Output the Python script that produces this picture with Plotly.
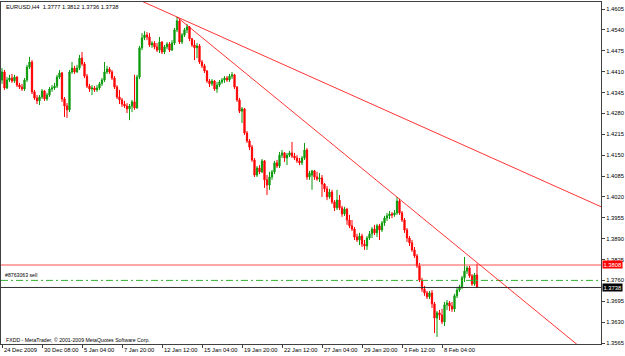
import plotly.graph_objects as go

# ---------------- data (EURUSD, H4) ----------------
open_ = [1.4384, 1.4409, 1.4359, 1.4384, 1.4390, 1.4381, 1.4393, 1.4368, 1.4362, 1.4356,
         1.4384, 1.4424, 1.4440, 1.4347, 1.4328, 1.4319, 1.4331, 1.4350, 1.4325, 1.4337,
         1.4356, 1.4359, 1.4365, 1.4393, 1.4406, 1.4325, 1.4303, 1.4291, 1.4409, 1.4421,
         1.4409, 1.4421, 1.4452, 1.4434, 1.4396, 1.4365, 1.4356, 1.4359, 1.4353, 1.4359,
         1.4372, 1.4384, 1.4409, 1.4418, 1.4409, 1.4390, 1.4362, 1.4331, 1.4322, 1.4309,
         1.4303, 1.4294, 1.4303, 1.4316, 1.4297, 1.4393, 1.4484, 1.4515, 1.4524, 1.4518,
         1.4493, 1.4499, 1.4487, 1.4477, 1.4502, 1.4471, 1.4487, 1.4496, 1.4477, 1.4499,
         1.4540, 1.4568, 1.4502, 1.4524, 1.4540, 1.4549, 1.4512, 1.4493, 1.4484, 1.4490,
         1.4440, 1.4428, 1.4412, 1.4381, 1.4372, 1.4381, 1.4356, 1.4368, 1.4378, 1.4384,
         1.4390, 1.4384, 1.4396, 1.4400, 1.4362, 1.4322, 1.4287, 1.4294, 1.4219, 1.4194,
         1.4175, 1.4135, 1.4088, 1.4110, 1.4098, 1.4132, 1.4073, 1.4057, 1.4082, 1.4098,
         1.4126, 1.4116, 1.4150, 1.4157, 1.4141, 1.4150, 1.4157, 1.4147, 1.4141, 1.4132,
         1.4126, 1.4141, 1.4166, 1.4082, 1.4088, 1.4101, 1.4082, 1.4076, 1.4079, 1.4060,
         1.4045, 1.4020, 1.4035, 1.4004, 1.3986, 1.4010, 1.3986, 1.3967, 1.3982, 1.3948,
         1.3930, 1.3920, 1.3895, 1.3886, 1.3898, 1.3873, 1.3867, 1.3892, 1.3905, 1.3920,
         1.3908, 1.3930, 1.3917, 1.3939, 1.3954, 1.3961, 1.3967, 1.3964, 1.3970, 1.4007,
         1.3970, 1.3948, 1.3917, 1.3892, 1.3877, 1.3855, 1.3836, 1.3805, 1.3761, 1.3733,
         1.3721, 1.3709, 1.3721, 1.3687, 1.3643, 1.3659, 1.3652, 1.3631, 1.3684, 1.3690,
         1.3680, 1.3671, 1.3712, 1.3730, 1.3740, 1.3768, 1.3789, 1.3799, 1.3774, 1.3749, 1.3777]

high = [1.4421, 1.4415, 1.4393, 1.4400, 1.4403, 1.4400, 1.4396, 1.4375, 1.4372, 1.4390,
        1.4431, 1.4456, 1.4446, 1.4353, 1.4337, 1.4337, 1.4356, 1.4353, 1.4344, 1.4362,
        1.4368, 1.4375, 1.4400, 1.4415, 1.4409, 1.4331, 1.4312, 1.4415, 1.4440, 1.4428,
        1.4431, 1.4462, 1.4471, 1.4440, 1.4403, 1.4372, 1.4368, 1.4365, 1.4368, 1.4378,
        1.4390, 1.4440, 1.4428, 1.4424, 1.4415, 1.4396, 1.4368, 1.4353, 1.4328, 1.4319,
        1.4312, 1.4309, 1.4322, 1.4400, 1.4400, 1.4490, 1.4530, 1.4536, 1.4533, 1.4530,
        1.4505, 1.4505, 1.4499, 1.4518, 1.4505, 1.4493, 1.4502, 1.4502, 1.4508, 1.4546,
        1.4580, 1.4574, 1.4530, 1.4546, 1.4558, 1.4552, 1.4515, 1.4508, 1.4499, 1.4496,
        1.4446, 1.4434, 1.4415, 1.4387, 1.4387, 1.4384, 1.4378, 1.4384, 1.4390, 1.4396,
        1.4396, 1.4403, 1.4409, 1.4403, 1.4365, 1.4328, 1.4300, 1.4297, 1.4225, 1.4200,
        1.4182, 1.4141, 1.4116, 1.4119, 1.4138, 1.4135, 1.4088, 1.4098, 1.4104, 1.4132,
        1.4135, 1.4160, 1.4166, 1.4160, 1.4157, 1.4163, 1.4191, 1.4157, 1.4150, 1.4141,
        1.4147, 1.4188, 1.4172, 1.4101, 1.4104, 1.4104, 1.4098, 1.4094, 1.4088, 1.4063,
        1.4054, 1.4045, 1.4042, 1.4010, 1.4042, 1.4026, 1.3992, 1.3989, 1.3986, 1.3964,
        1.3948, 1.3926, 1.3905, 1.3908, 1.3905, 1.3886, 1.3898, 1.3914, 1.3926, 1.3933,
        1.3936, 1.3936, 1.3945, 1.3961, 1.3970, 1.3976, 1.3973, 1.3979, 1.4020, 1.4014,
        1.3976, 1.3954, 1.3923, 1.3898, 1.3886, 1.3864, 1.3842, 1.3814, 1.3768, 1.3743,
        1.3727, 1.3727, 1.3730, 1.3693, 1.3665, 1.3668, 1.3671, 1.3693, 1.3699, 1.3696,
        1.3693, 1.3718, 1.3740, 1.3746, 1.3774, 1.3833, 1.3805, 1.3805, 1.3780, 1.3783, 1.3812]

low = [1.4372, 1.4353, 1.4356, 1.4378, 1.4375, 1.4375, 1.4362, 1.4356, 1.4350, 1.4350,
       1.4378, 1.4418, 1.4340, 1.4322, 1.4309, 1.4306, 1.4325, 1.4319, 1.4319, 1.4331,
       1.4347, 1.4353, 1.4359, 1.4387, 1.4316, 1.4269, 1.4266, 1.4284, 1.4403, 1.4403,
       1.4406, 1.4415, 1.4428, 1.4390, 1.4359, 1.4347, 1.4337, 1.4347, 1.4347, 1.4353,
       1.4365, 1.4378, 1.4403, 1.4403, 1.4384, 1.4356, 1.4325, 1.4309, 1.4300, 1.4297,
       1.4281, 1.4259, 1.4284, 1.4291, 1.4294, 1.4387, 1.4477, 1.4508, 1.4508, 1.4487,
       1.4484, 1.4480, 1.4471, 1.4468, 1.4465, 1.4465, 1.4480, 1.4471, 1.4474, 1.4493,
       1.4533, 1.4496, 1.4496, 1.4518, 1.4530, 1.4505, 1.4487, 1.4446, 1.4452, 1.4434,
       1.4421, 1.4406, 1.4375, 1.4362, 1.4365, 1.4350, 1.4344, 1.4362, 1.4372, 1.4375,
       1.4378, 1.4378, 1.4387, 1.4356, 1.4316, 1.4281, 1.4250, 1.4213, 1.4188, 1.4166,
       1.4129, 1.4082, 1.4082, 1.4091, 1.4094, 1.4048, 1.4026, 1.4042, 1.4073, 1.4091,
       1.4110, 1.4110, 1.4141, 1.4129, 1.4119, 1.4144, 1.4141, 1.4135, 1.4126, 1.4119,
       1.4119, 1.4135, 1.4073, 1.4073, 1.4042, 1.4073, 1.4070, 1.4066, 1.4020, 1.4035,
       1.4010, 1.4014, 1.3998, 1.3976, 1.3979, 1.3979, 1.3958, 1.3961, 1.3933, 1.3923,
       1.3914, 1.3886, 1.3880, 1.3870, 1.3864, 1.3855, 1.3855, 1.3886, 1.3892, 1.3901,
       1.3895, 1.3886, 1.3911, 1.3930, 1.3945, 1.3951, 1.3954, 1.3958, 1.3964, 1.3964,
       1.3942, 1.3908, 1.3880, 1.3867, 1.3849, 1.3830, 1.3799, 1.3755, 1.3724, 1.3712,
       1.3702, 1.3702, 1.3674, 1.3596, 1.3584, 1.3637, 1.3624, 1.3618, 1.3668, 1.3665,
       1.3662, 1.3662, 1.3705, 1.3724, 1.3733, 1.3755, 1.3780, 1.3768, 1.3743, 1.3743, 1.3736]

close = [1.4409, 1.4359, 1.4384, 1.4390, 1.4381, 1.4393, 1.4368, 1.4362, 1.4356, 1.4384,
         1.4424, 1.4440, 1.4347, 1.4328, 1.4319, 1.4331, 1.4350, 1.4325, 1.4337, 1.4356,
         1.4359, 1.4365, 1.4393, 1.4406, 1.4325, 1.4303, 1.4291, 1.4409, 1.4421, 1.4409,
         1.4421, 1.4452, 1.4434, 1.4396, 1.4365, 1.4356, 1.4359, 1.4353, 1.4359, 1.4372,
         1.4384, 1.4409, 1.4418, 1.4409, 1.4390, 1.4362, 1.4331, 1.4322, 1.4309, 1.4303,
         1.4294, 1.4303, 1.4316, 1.4297, 1.4393, 1.4484, 1.4515, 1.4524, 1.4518, 1.4493,
         1.4499, 1.4487, 1.4477, 1.4502, 1.4471, 1.4487, 1.4496, 1.4477, 1.4499, 1.4540,
         1.4568, 1.4502, 1.4524, 1.4540, 1.4549, 1.4512, 1.4493, 1.4484, 1.4490, 1.4440,
         1.4428, 1.4412, 1.4381, 1.4372, 1.4381, 1.4356, 1.4368, 1.4378, 1.4384, 1.4390,
         1.4384, 1.4396, 1.4400, 1.4362, 1.4322, 1.4287, 1.4294, 1.4219, 1.4194, 1.4175,
         1.4135, 1.4088, 1.4110, 1.4098, 1.4132, 1.4073, 1.4057, 1.4082, 1.4098, 1.4126,
         1.4116, 1.4150, 1.4157, 1.4141, 1.4150, 1.4157, 1.4147, 1.4141, 1.4132, 1.4126,
         1.4141, 1.4166, 1.4082, 1.4094, 1.4101, 1.4082, 1.4076, 1.4079, 1.4060, 1.4045,
         1.4020, 1.4035, 1.4004, 1.3986, 1.4010, 1.3986, 1.3967, 1.3982, 1.3948, 1.3930,
         1.3920, 1.3895, 1.3886, 1.3898, 1.3873, 1.3867, 1.3892, 1.3905, 1.3920, 1.3908,
         1.3930, 1.3917, 1.3939, 1.3954, 1.3961, 1.3967, 1.3964, 1.3970, 1.4007, 1.3970,
         1.3948, 1.3917, 1.3892, 1.3877, 1.3855, 1.3836, 1.3805, 1.3761, 1.3733, 1.3721,
         1.3709, 1.3721, 1.3687, 1.3643, 1.3659, 1.3652, 1.3631, 1.3684, 1.3690, 1.3680,
         1.3671, 1.3712, 1.3730, 1.3740, 1.3768, 1.3789, 1.3799, 1.3774, 1.3749, 1.3777, 1.3738]

# time-axis labels (every 16 H4 bars)
date_tick_bars = [0, 16, 32, 48, 64, 80, 96, 112, 128, 144, 160, 176]
date_tick_labels = ["24 Dec 2009", "30 Dec 08:00", "5 Jan 04:00", "7 Jan 20:00",
                    "12 Jan 12:00", "15 Jan 04:00", "19 Jan 20:00", "22 Jan 12:00",
                    "27 Jan 04:00", "29 Jan 20:00", "3 Feb 12:00", "8 Feb 04:00"]

price_ticks = [1.3565, 1.3630, 1.3695, 1.3760, 1.3825, 1.3890, 1.3955, 1.4020, 1.4085,
               1.4150, 1.4215, 1.4280, 1.4345, 1.4410, 1.4475, 1.4540, 1.4605]

# trend lines (bar index, price)
trend1_bars = [50, 240]
trend1_prices = [1.4650, 1.3988]
trend2_bars = [70, 240]
trend2_prices = [1.4580, 1.3497]

level_red = 1.3808        # horizontal line
level_order = 1.3760      # sell order (#8763063)
level_bid = 1.3738        # current bid

symbol_title = "EURUSD,H4  1.3777 1.3812 1.3736 1.3738"
order_label = "#8763063 sell"
copyright_text = "FXDD - MetaTrader, \u00a9 2001-2009 MetaQuotes Software Corp."

# ---------------- figure ----------------
FONT = "Liberation Sans, Arial, sans-serif"
FS = 5.8
GREEN = "#0b9a0b"
RED = "#ff0000"
X_RANGE = [-0.4, 239.6]
Y_RANGE = [1.35620, 1.46268]

bars = list(range(len(close)))

fig = go.Figure()

fig.add_trace(go.Candlestick(
    x=bars, open=open_, high=high, low=low, close=close,
    increasing=dict(line=dict(color=GREEN, width=1), fillcolor=GREEN),
    decreasing=dict(line=dict(color=RED, width=1), fillcolor=RED),
    whiskerwidth=0, hoverinfo="skip", showlegend=False,
))

# horizontal levels
fig.add_trace(go.Scatter(x=X_RANGE, y=[level_red, level_red], mode="lines",
                         line=dict(color="rgba(255,60,60,0.45)", width=2),
                         hoverinfo="skip", showlegend=False))
fig.add_trace(go.Scatter(x=X_RANGE, y=[level_order, level_order], mode="lines",
                         line=dict(color="#33b033", width=1, dash="7px,3px,2px,3px"),
                         hoverinfo="skip", showlegend=False))
fig.add_trace(go.Scatter(x=X_RANGE, y=[level_bid, level_bid], mode="lines",
                         line=dict(color="#303030", width=1),
                         hoverinfo="skip", showlegend=False))

# trend lines
for bx, py in ((trend1_bars, trend1_prices), (trend2_bars, trend2_prices)):
    fig.add_trace(go.Scatter(x=bx, y=py, mode="lines",
                             line=dict(color="rgba(255,0,0,0.8)", width=1),
                             hoverinfo="skip", showlegend=False))

annotations = []
# date labels, left-aligned at their tick
for b, lab in zip(date_tick_bars, date_tick_labels):
    annotations.append(dict(x=b, y=0, xref="x", yref="paper", text=lab,
                            xanchor="left", yanchor="top", yshift=-1, xshift=0,
                            showarrow=False, font=dict(family=FONT, size=FS, color="black")))
annotations += [
    dict(x=0.005, y=0.985, xref="paper", yref="paper", text=symbol_title,
         xanchor="left", yanchor="middle", showarrow=False,
         font=dict(family=FONT, size=FS, color="black")),
    dict(x=0.004, y=level_order, xref="paper", yref="y", text=order_label,
         xanchor="left", yanchor="bottom", yshift=0, showarrow=False,
         font=dict(family=FONT, size=FS - 0.6, color="black")),
    dict(x=0.005, y=0.012, xref="paper", yref="paper", text=copyright_text,
         xanchor="left", yanchor="middle", showarrow=False,
         font=dict(family=FONT, size=FS - 0.6, color="black")),
    dict(x=1, y=level_red, xref="paper", yref="y", text=f"{level_red:.4f}",
         xanchor="left", yanchor="middle", xshift=1, showarrow=False,
         bgcolor="#ff0000", borderpad=0.5,
         font=dict(family=FONT, size=FS, color="white")),
    dict(x=1, y=level_bid, xref="paper", yref="y", text=f"{level_bid:.4f}",
         xanchor="left", yanchor="middle", xshift=1, showarrow=False,
         bgcolor="#000000", borderpad=0.5,
         font=dict(family=FONT, size=FS, color="white")),
]

fig.update_layout(
    width=625, height=356,
    margin=dict(l=1, r=24, t=2, b=12),
    paper_bgcolor="white", plot_bgcolor="white",
    showlegend=False,
    annotations=annotations,
    xaxis=dict(range=X_RANGE, showgrid=False, zeroline=False, rangeslider=dict(visible=False),
               showline=True, linecolor="#404040", linewidth=1, mirror=True,
               tickmode="array", tickvals=date_tick_bars, showticklabels=False,
               ticks="outside", ticklen=3, tickcolor="#404040", fixedrange=True),
    yaxis=dict(range=Y_RANGE, side="right", showgrid=False, zeroline=False,
               showline=True, linecolor="#404040", linewidth=1, mirror=True,
               tickmode="array", tickvals=price_ticks,
               ticktext=[f"{p:.4f}" for p in price_ticks],
               ticks="outside", ticklen=3, tickcolor="#404040",
               tickfont=dict(family=FONT, size=FS, color="black"), fixedrange=True),
)

fig.write_html("out.html", config={"displayModeBar": False})
